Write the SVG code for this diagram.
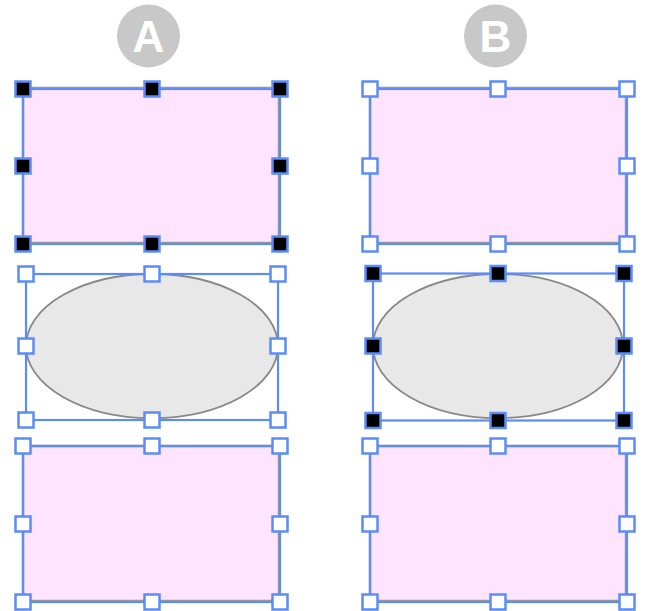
<svg xmlns="http://www.w3.org/2000/svg" width="645" height="611" viewBox="0 0 645 611">
<defs>
<style>
.badge{fill:#c8c8c8}
.badgeT{fill:#fff;font-family:"Liberation Sans",Arial,sans-serif;font-weight:bold;font-size:44px;text-anchor:middle}
.rshape{fill:#ffe4ff;stroke:#999;stroke-width:2.5}
.eshape{fill:#e8e8e8;stroke:#888;stroke-width:1.8}
.frame{fill:none;stroke:#5b8cf8;stroke-width:2.2}
.hb{fill:#000;stroke:#5b8cf8;stroke-width:2.5}
.hw{fill:#fff;stroke:#5b8cf8;stroke-width:2.5}
</style>
<g id="h-black"><rect class="hb" x="-7.5" y="-7.5" width="15" height="15"/></g>
<g id="h-white"><rect class="hw" x="-7.5" y="-7.5" width="15" height="15"/></g>
</defs>
<rect width="645" height="611" fill="#fff"/>

<g id="label-A">
<circle class="badge" cx="148.5" cy="36" r="31.5"/>
<text class="badgeT" x="148.5" y="52">A</text>
</g>
<g id="label-B">
<circle class="badge" cx="495.5" cy="36" r="31.5"/>
<text class="badgeT" x="495.5" y="52">B</text>
</g>

<g id="connectors"></g>

<!-- Column A -->
<g id="A-rect-top">
<rect class="rshape" x="23" y="88" width="256" height="155"/>
<rect class="frame" x="23" y="89" width="257" height="155"/>
<use href="#h-black" x="23" y="89"/><use href="#h-black" x="152" y="89"/><use href="#h-black" x="280" y="89"/>
<use href="#h-black" x="23" y="166"/><use href="#h-black" x="280" y="166"/>
<use href="#h-black" x="23" y="244"/><use href="#h-black" x="152" y="244"/><use href="#h-black" x="280" y="244"/>
</g>
<g id="A-ellipse">
<ellipse class="eshape" cx="152" cy="346" rx="126" ry="72"/>
<rect class="frame" x="26" y="274" width="252" height="146"/>
<use href="#h-white" x="26" y="274"/><use href="#h-white" x="152" y="274"/><use href="#h-white" x="278" y="274"/>
<use href="#h-white" x="26" y="346"/><use href="#h-white" x="278" y="346"/>
<use href="#h-white" x="26" y="420"/><use href="#h-white" x="152" y="420"/><use href="#h-white" x="278" y="420"/>
</g>
<g id="A-rect-bottom">
<rect class="rshape" x="23" y="446" width="256" height="155"/>
<rect class="frame" x="23" y="446" width="257" height="156"/>
<use href="#h-white" x="23" y="446"/><use href="#h-white" x="152" y="446"/><use href="#h-white" x="280" y="446"/>
<use href="#h-white" x="23" y="524"/><use href="#h-white" x="280" y="524"/>
<use href="#h-white" x="23" y="602"/><use href="#h-white" x="152" y="602"/><use href="#h-white" x="280" y="602"/>
</g>

<!-- Column B -->
<g id="B-rect-top">
<rect class="rshape" x="370" y="88" width="256" height="155"/>
<rect class="frame" x="370" y="89" width="257" height="155"/>
<use href="#h-white" x="370" y="89"/><use href="#h-white" x="498" y="89"/><use href="#h-white" x="627" y="89"/>
<use href="#h-white" x="370" y="166"/><use href="#h-white" x="627" y="166"/>
<use href="#h-white" x="370" y="244"/><use href="#h-white" x="498" y="244"/><use href="#h-white" x="627" y="244"/>
</g>
<g id="B-ellipse">
<ellipse class="eshape" cx="498" cy="346" rx="125" ry="72"/>
<rect class="frame" x="373" y="273.5" width="251" height="147"/>
<use href="#h-black" x="373" y="273.5"/><use href="#h-black" x="498" y="273.5"/><use href="#h-black" x="624" y="273.5"/>
<use href="#h-black" x="373" y="346"/><use href="#h-black" x="624" y="346"/>
<use href="#h-black" x="373" y="420.5"/><use href="#h-black" x="498" y="420.5"/><use href="#h-black" x="624" y="420.5"/>
</g>
<g id="B-rect-bottom">
<rect class="rshape" x="370" y="446" width="256" height="155"/>
<rect class="frame" x="370" y="446" width="257" height="156"/>
<use href="#h-white" x="370" y="446"/><use href="#h-white" x="498" y="446"/><use href="#h-white" x="627" y="446"/>
<use href="#h-white" x="370" y="524"/><use href="#h-white" x="627" y="524"/>
<use href="#h-white" x="370" y="602"/><use href="#h-white" x="498" y="602"/><use href="#h-white" x="627" y="602"/>
</g>
</svg>
